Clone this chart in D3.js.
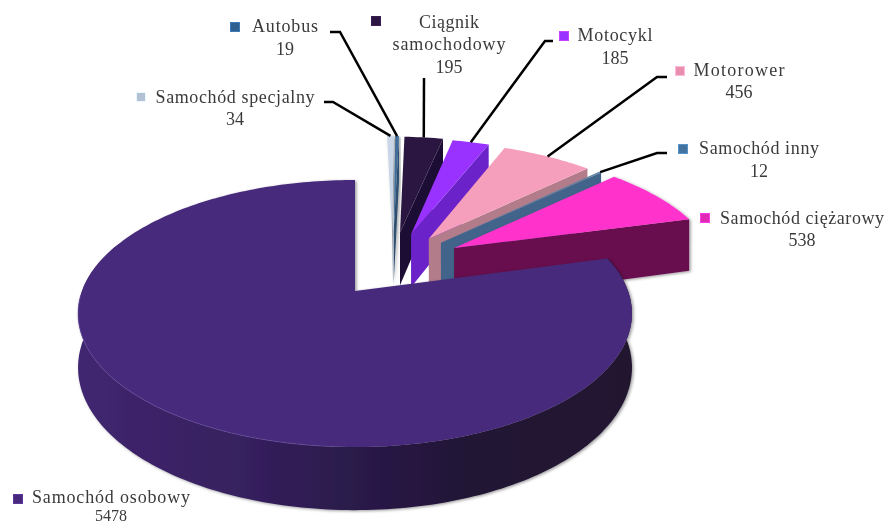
<!DOCTYPE html>
<html><head><meta charset="utf-8">
<script src="https://cdn.jsdelivr.net/npm/d3@7"></script>
<style>html,body{margin:0;padding:0;background:#fff}svg{display:block}text{font-family:"Liberation Serif",serif;fill:#3a3a3a}</style>
</head><body><svg id="c" width="887" height="526"></svg>
<script>
const categories = ["Samochód specjalny","Autobus","Ciągnik samochodowy","Motocykl","Motorower","Samochód inny","Samochód ciężarowy","Samochód osobowy"];
const values = [34,19,195,185,456,12,538,5478];
const topColors = ["#c9d6e8","#3f6d99","#2b1641","#9a33ff","#f59fbc","#5b7fa3","#ff33cc","#472c7c"];
const wallColors = ["#8f9aa8","#2d4f70","#1f1036","#6c22c9","#b37c8b","#42648a","#67114d","#34205f"];
const markerColors = ["#b4c1d4","#2f5f8f","#2b1641","#9a33ff","#e88fae","#44739f","#e02cb4","#472a7b"];
const explode = [.52,.52,.52,.52,.52,.52,.52,0];
const labelLines = [["Samochód specjalny","34"],["Autobus","19"],["Ciągnik","samochodowy","195"],["Motocykl","185"],["Motorower","456"],["Samochód inny","12"],["Samochód ciężarowy","538"],["Samochód osobowy","5478"]];
// label layout: centre x, baselines, fitted widths, marker x/y, leader elbow points
const labelPos = [
 {cx:235,ys:[103,125],w:[159],mx:141,my:97,lead:[[324,102],[333,102]]},
 {cx:285,ys:[32,55],w:[66],mx:235,my:27,lead:[[330,32],[340,32]]},
 {cx:449,ys:[28,50,73],w:[60,113],mx:376,my:21,lead:[[424,78]]},
 {cx:615,ys:[41,64],w:[75],mx:564,my:36,lead:[[553,41],[545,41]]},
 {cx:739,ys:[76,98],w:[91],mx:680,my:71,lead:[[667,77],[657,77]]},
 {cx:759,ys:[154,177],w:[120],mx:683,my:149,lead:[[667,153],[657,153]]},
 {cx:802,ys:[224,246],w:[164],mx:705,my:218,lead:null},
 {cx:111,ys:[503,521],w:[158],mx:18,my:499,lead:null}
];
const cx=355, cy=291, R=273, ry=129.7, k=.1686;
const depth=i=>i==7?52.5:57;
const svg=d3.select("#c");
const defs=svg.append("defs");
const f=defs.append("filter").attr("id","sh").attr("x","-20%").attr("y","-20%").attr("width","140%").attr("height","140%");
f.append("feDropShadow").attr("dx",1.5).attr("dy",1).attr("stdDeviation",1.6).attr("flood-color","#000").attr("flood-opacity",.4);
defs.append("filter").attr("id","soft").attr("filterUnits","userSpaceOnUse").attr("x",0).attr("y",0)
  .attr("width",887).attr("height",526).append("feGaussianBlur").attr("stdDeviation",.45);
const g=defs.append("linearGradient").attr("id","mw").attr("gradientUnits","userSpaceOnUse").attr("x1",78).attr("x2",632).attr("y1",0).attr("y2",0);
[[0,"#412670"],[.3,"#36205e"],[.5,"#2a1a4a"],[.7,"#221336"],[1,"#20122f"]].forEach(s=>g.append("stop").attr("offset",s[0]).attr("stop-color",s[1]));
const root=svg.append("g").attr("filter","url(#soft)");

const proj=(u,v,h=0)=>{const s=1/(1-k*v);return [cx+R*u*s, cy+ry*v*s+h*s];};
const line=d3.line();
const arcs=d3.pie().sort(null).value(d=>d)(values);
const offs=arcs.map((a,i)=>{const mid=(a.startAngle+a.endAngle)/2;const dir=(16*Math.PI/180)+.52*mid;
  return [explode[i]*Math.sin(dir),-explode[i]*Math.cos(dir)];});
const pt=(i,th,r=1)=>[offs[i][0]+r*Math.sin(th),offs[i][1]-r*Math.cos(th)];

arcs.forEach((a,i)=>{
  const G=root.append("g").attr("filter",(i==7||i<2||i==6)?"url(#sh)":null);
  const n=Math.max(2,Math.ceil((a.endAngle-a.startAngle)/0.02));
  const ths=d3.range(n+1).map(j=>a.startAngle+(a.endAngle-a.startAngle)*j/n);
  const rim=ths.map(t=>pt(i,t));
  const apex=offs[i], H=depth(i);
  if(i==7){
    const wall=rim.filter((p,j)=>ths[j]>1.2&&ths[j]<5.1);
    const poly=wall.map(p=>proj(p[0],p[1])).concat(wall.slice().reverse().map(p=>proj(p[0],p[1],H)));
    G.append("path").attr("d",line(poly)+"Z").attr("fill","url(#mw)");
  } else {
    const c=pt(i,a.endAngle);
    const poly=[proj(apex[0],apex[1]),proj(c[0],c[1]),proj(c[0],c[1],H),proj(apex[0],apex[1],H)];
    G.append("path").attr("d",line(poly)+"Z").attr("fill",wallColors[i]);
  }
  const top=[proj(apex[0],apex[1])].concat(rim.map(p=>proj(p[0],p[1])));
  G.append("path").attr("d",line(top)+"Z").attr("fill",topColors[i]);
  if(i==7){
    const front=rim.filter((p,j)=>ths[j]>3.2&&ths[j]<4.7).map(p=>proj(p[0],p[1]));
    G.append("path").attr("d",line(front)).attr("fill","none").attr("stroke","#6f52a6").attr("stroke-width",1).attr("opacity",.55);
  }
});

labelPos.forEach((p,i)=>{
  if(p.lead){
    const a=arcs[i];const e=pt(i,(a.startAngle+a.endAngle)/2);
    root.append("path").attr("d",line(p.lead.concat([proj(e[0],e[1])]))).attr("fill","none").attr("stroke","#000").attr("stroke-width",2.5);
  }
  root.append("rect").attr("x",p.mx-4.5).attr("y",p.my-4.5).attr("width",9).attr("height",9)
     .attr("fill",markerColors[i]).attr("stroke",d3.color(markerColors[i]).brighter(.7)).attr("stroke-width",1);
  labelLines[i].forEach((t,j)=>{
    const T=root.append("text").attr("x",p.cx).attr("y",p.ys[j]).attr("text-anchor","middle").attr("font-size",i==7&&j==1?16:18).text(t);
    if(p.w[j]) T.attr("textLength",p.w[j]).attr("lengthAdjust","spacing");
  });
});
</script></body></html>
